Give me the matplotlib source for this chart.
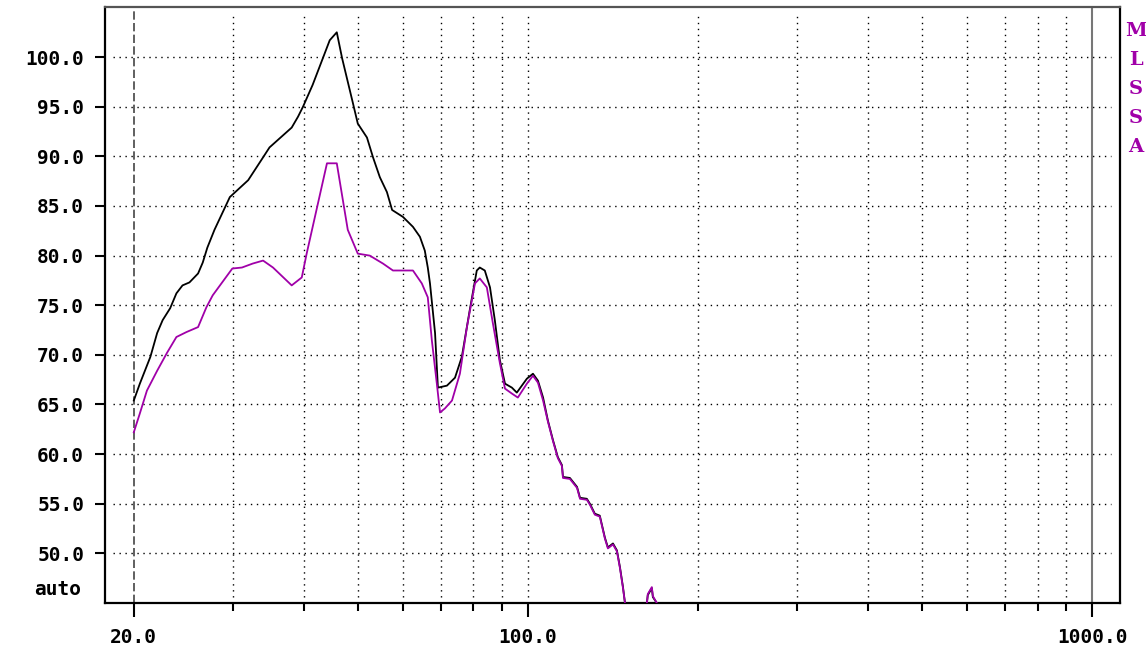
import matplotlib
matplotlib.use('Agg')
import matplotlib.pyplot as plt

# frequency (Hz) / level (dB)
black_f = [20, 20.5, 21.4, 22.0, 22.5, 23.2, 23.8, 24.4, 25.1, 26.0, 26.5, 27.0, 27.8,
           29.6, 31.9, 33.9, 34.8, 38.1, 39.1, 39.9, 41.5, 44.5, 45.8, 46.8, 48.9, 49.9,
           51.8, 53.1, 54.6, 56.2, 57.4, 60.0, 62.5, 64.3, 65.6, 66.4, 67.0, 68.4, 69.2,
           71.8, 74.2, 76.3, 78.8, 81.1, 82.1, 83.8, 85.6, 87.3, 89.1, 91.0, 93.6, 95.5,
           99.5, 102.0, 104.1, 106.3, 108.4, 110.7, 112.9, 114.8, 115.3, 118.6, 122.1,
           123.6, 127.1, 128.7, 131.3, 134.0, 136.8, 138.5, 141.4, 143.7, 145.5, 147.3,
           148.5, 150.0, 160.5, 162.4, 163.0, 165.7, 166.4, 169.1, 171.0, 200.0]
black_db = [65.4, 67.1, 69.8, 72.2, 73.5, 74.7, 76.2, 77.0, 77.3, 78.2, 79.3, 80.8, 82.6,
            85.9, 87.6, 89.9, 90.9, 92.9, 94.0, 95.0, 97.2, 101.7, 102.5, 99.9, 95.4, 93.3,
            91.9, 89.9, 87.9, 86.4, 84.6, 83.9, 82.9, 81.9, 80.5, 78.8, 77.2, 72.2, 66.7,
            66.9, 67.7, 69.8, 74.5, 78.5, 78.8, 78.5, 76.8, 73.5, 69.5, 67.1, 66.7, 66.2,
            67.6, 68.1, 67.4, 65.7, 63.4, 61.4, 59.7, 58.9, 57.7, 57.6, 56.7,
            55.6, 55.5, 55.0, 54.0, 53.8, 51.6, 50.6, 51.0, 50.3, 48.6, 46.6,
            45.0, 40.0, 40.0, 45.0, 45.8, 46.5, 45.6, 45.0, 40.0, 40.0]

mlssa_f = [20, 20.5, 21.1, 22.0, 22.9, 23.8, 24.8, 26.0, 26.9, 27.6, 28.6, 29.9, 31.1,
           32.5, 33.9, 35.3, 38.1, 39.7, 40.5, 44.0, 45.8, 47.9, 49.9, 52.4, 55.3, 57.6,
           62.5, 64.8, 66.4, 67.5, 68.9, 69.8, 71.2, 73.3, 75.7, 77.9, 80.5, 82.1, 84.5,
           86.6, 89.1, 91.0, 93.6, 95.9, 99.5, 102.0, 104.1, 106.3, 108.4, 110.7, 112.9,
           114.8, 115.3, 118.6, 122.1, 123.6, 127.1, 128.7, 131.3, 134.0, 136.8, 138.5,
           141.4, 143.7, 145.5, 147.3, 148.5, 150.0, 160.5, 162.4, 163.0, 165.7, 166.4,
           169.1, 171.0, 200.0]
mlssa_db = [62.2, 64.1, 66.4, 68.4, 70.2, 71.8, 72.3, 72.8, 74.8, 76.0, 77.2, 78.7, 78.8,
            79.2, 79.5, 78.8, 77.0, 77.8, 80.2, 89.3, 89.3, 82.6, 80.2, 80.0, 79.2, 78.5,
            78.5, 77.2, 75.8, 71.5, 67.1, 64.2, 64.6, 65.4, 68.1, 72.8, 77.2, 77.7, 76.8,
            73.2, 69.2, 66.6, 66.1, 65.7, 67.1, 67.9, 67.2, 65.4, 63.3, 61.3, 59.6,
            58.8, 57.6, 57.5, 56.6, 55.5, 55.4, 54.9, 53.9, 53.7, 51.5, 50.5,
            50.9, 50.2, 48.5, 46.5, 45.0, 40.0, 40.0, 45.0, 45.9, 46.6, 45.7,
            45.0, 40.0, 40.0]

y_ticks = [50, 55, 60, 65, 70, 75, 80, 85, 90, 95, 100]
x_major = [20, 100, 1000]
x_minor = [30, 40, 50, 60, 70, 80, 90, 200, 300, 400, 500, 600, 700, 800, 900]

purple = '#a000a8'
lab_font = dict(family='DejaVu Sans Mono', weight='bold', size=14)

fig = plt.figure(figsize=(11.46, 6.47), dpi=100)
ax = fig.add_axes([0.0916, 0.068, 0.8857, 0.9212])
ax.set_xscale('log')
ax.set_xlim(17.78, 1120)
ax.set_ylim(45, 105.05)

# dotted grid
for y in y_ticks:
    ax.axhline(y, xmin=0.008, xmax=0.991, color='black', lw=1.0,
               ls=(0, (1, 3.3)), zorder=1)
for x in x_minor + [100]:
    ax.axvline(x, ymin=0, ymax=0.987, color='black', lw=1.0,
               ls=(0, (1, 3.3)), zorder=1)
ax.axvline(20, color='#444444', lw=1.2, ls=(0, (5, 2)), zorder=1)
ax.axvline(1000, color='#777777', lw=1.5, zorder=1)

ax.plot(black_f, black_db, color='black', lw=1.3, zorder=3)
ax.plot(mlssa_f, mlssa_db, color=purple, lw=1.3, zorder=4)

for s in ax.spines.values():
    s.set_linewidth(1.6)
    s.set_color('black')
ax.spines['top'].set_color('#555555')

ax.set_yticks(y_ticks)
ax.set_yticklabels(['%.1f' % v for v in y_ticks], fontdict=lab_font)
ax.tick_params(axis='y', direction='out', length=7, width=1.5, pad=8)

ax.set_xticks(x_major)
ax.set_xticklabels(['20.0', '100.0', '1000.0'], fontdict=lab_font)
ax.set_xticks(x_minor, minor=True)
ax.set_xticklabels([], minor=True)
ax.tick_params(axis='x', which='major', direction='out', length=10, width=1.5, pad=8)
ax.tick_params(axis='x', which='minor', direction='out', length=6, width=1.5)

ax.annotate('auto', xy=(0, 45), xycoords=('axes fraction', 'data'),
            xytext=(-17, 3), textcoords='offset points', ha='right', va='bottom',
            **lab_font)

fig.text(0.9913, 0.862, '\n'.join('MLSSA'), color=purple, ha='center', va='center',
         family='DejaVu Serif', weight='bold', fontsize=14, linespacing=1.78)

fig.savefig('out.png', dpi=100)
